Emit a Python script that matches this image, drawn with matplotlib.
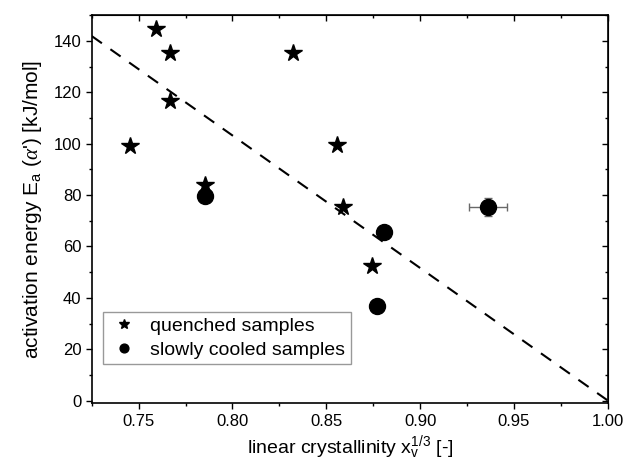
import numpy as np
import matplotlib
matplotlib.use("Agg")
from matplotlib import pyplot as plt
from matplotlib.ticker import MultipleLocator

plt.rcParams['font.family'] = ['Liberation Sans', 'DejaVu Sans']
plt.rcParams['mathtext.fontset'] = 'custom'
plt.rcParams['mathtext.rm'] = 'Liberation Sans'
plt.rcParams['mathtext.it'] = 'Liberation Serif:italic'

# quenched samples (stars)
quenched_x = [0.7594, 0.7665, 0.7665, 0.7456, 0.7852, 0.8322, 0.8559, 0.8590, 0.8745]
quenched_y = [144.5, 135.4, 116.8, 99.1, 83.9, 135.4, 99.3, 75.3, 52.2]

# slowly cooled samples (circles)
cooled_x = [0.7852, 0.8808, 0.8772, 0.9362]
cooled_y = [79.6, 65.8, 37.0, 75.2]
cooled_xerr = [0, 0, 0, 0.010]
cooled_yerr = [0, 0, 0, 3.5]

# linear trend (dashed)
fit_x = [0.725, 1.0]
fit_y = [141.9, 0.0]

fig = plt.figure(figsize=(6.28, 4.76), dpi=100)
ax = fig.add_axes([0.146, 0.153, 0.822, 0.815])

ax.plot(fit_x, fit_y, color='black', linestyle=(0, (6, 5)), linewidth=1.5, zorder=1)

ax.errorbar(cooled_x, cooled_y, xerr=cooled_xerr, yerr=cooled_yerr, fmt='none',
            ecolor='dimgray', elinewidth=1, capsize=3, zorder=2)
ax.plot(quenched_x, quenched_y, linestyle='none', marker='*', markersize=13,
        color='black', label='quenched samples', zorder=3)
ax.plot(cooled_x, cooled_y, linestyle='none', marker='o', markersize=11.5,
        color='black', label='slowly cooled samples', zorder=3)

ax.set_xlim(0.725, 1.0)
ax.set_ylim(-1, 150)
ax.xaxis.set_major_locator(MultipleLocator(0.05))
ax.xaxis.set_minor_locator(MultipleLocator(0.025))
ax.yaxis.set_major_locator(MultipleLocator(20))
ax.yaxis.set_minor_locator(MultipleLocator(10))
ax.xaxis.set_major_formatter(matplotlib.ticker.FormatStrFormatter('%.2f'))
ax.tick_params(which='both', direction='out', labelsize=12, width=1)
ax.tick_params(which='major', length=4)
ax.tick_params(which='minor', length=2.5)

# inward ticks on the top and right
top = ax.secondary_xaxis('top')
top.xaxis.set_major_locator(MultipleLocator(0.05))
top.xaxis.set_minor_locator(MultipleLocator(0.025))
top.tick_params(which='both', direction='in', labeltop=False, width=1)
top.tick_params(which='major', length=4)
top.tick_params(which='minor', length=2.5)
right = ax.secondary_yaxis('right')
right.yaxis.set_major_locator(MultipleLocator(20))
right.yaxis.set_minor_locator(MultipleLocator(10))
right.tick_params(which='both', direction='in', labelright=False, width=1)
right.tick_params(which='major', length=4)
right.tick_params(which='minor', length=2.5)

for s in ax.spines.values():
    s.set_linewidth(1.2)

ax.set_xlabel(r"linear crystallinity x$_\mathregular{v}^\mathregular{1/3}$ [-]", fontsize=14)
ax.set_ylabel(r"activation energy E$_\mathregular{a}$ ($\alpha$') [kJ/mol]", fontsize=15,
              labelpad=7)

leg = ax.legend(loc='lower left', bbox_to_anchor=(0.004, 0.075), fontsize=14,
                markerscale=0.55, frameon=True, fancybox=False, handletextpad=0.6,
                borderpad=0.3, labelspacing=0.3, handlelength=1.5)
leg.get_frame().set_edgecolor('gray')
leg.get_frame().set_linewidth(1)

plt.savefig("out.png", dpi=100)
